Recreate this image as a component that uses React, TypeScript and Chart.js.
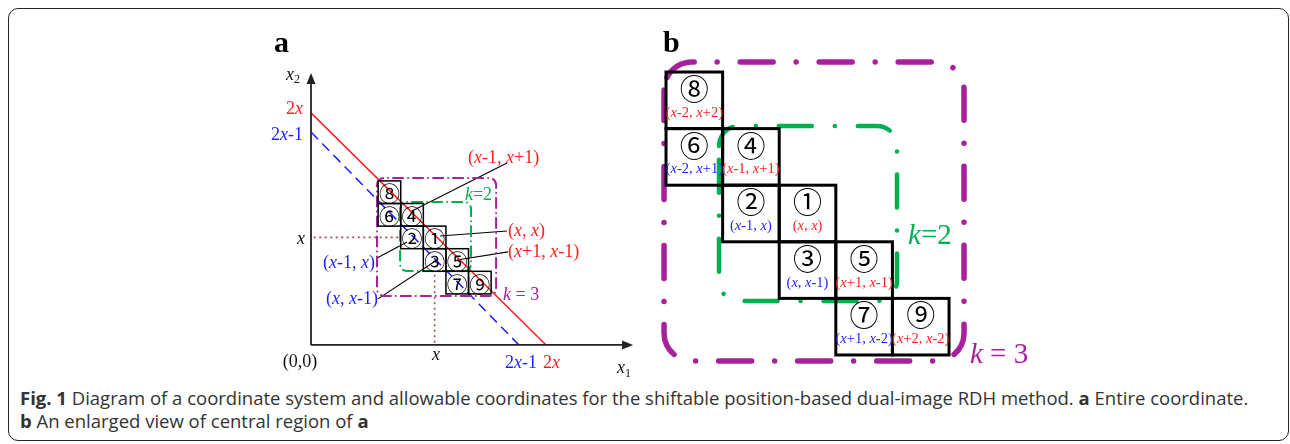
import React, { useEffect, useRef } from "react";
import { Chart, registerables } from "chart.js";
Chart.register(...registerables);

const SERIF = '"Liberation Serif", "Times New Roman", serif';
const CJK = '"Noto Sans CJK JP", "DejaVu Sans", sans-serif';
const RED = "#ff1e1e";
const BLUE = "#1e1eff";
const GREEN = "#00b050";
const PURPLE = "#a8209c";
const DOT_BROWN = "#a0524d";
const INK = "#111111";

// ---------- shared cell data (offsets from the centre cell (x, x)) ----------
const CELL_NUMS = ["①", "②", "③", "④", "⑤", "⑥", "⑦", "⑧", "⑨"];
const CELL_DX = [0, -1, 0, -1, 1, -2, 1, -2, 2];
const CELL_DY = [0, 0, -1, 1, -1, 1, -2, 2, -2];
const CELL_COORDS = ["(x, x)", "(x-1, x)", "(x, x-1)", "(x-1, x+1)", "(x+1, x-1)", "(x-2, x+1)", "(x+1, x-2)", "(x-2, x+2)", "(x+2, x-2)"];
const CELL_TONES = ["red", "blue", "blue", "red", "red", "blue", "blue", "red", "red"];

// ---------- panel a ----------
const A_CENTER_X = 5.47;
const A_CENTER_Y = 4.76;
const A_AXIS_X_END = 14.25;
const A_AXIS_Y_END = 12.04;
const A_RED_LINE = [{ x: 0, y: 10.27 }, { x: 10.4, y: 0 }];
const A_BLUE_LINE = [{ x: 0, y: 9.42 }, { x: 9.2, y: 0 }];
const A_H_DOTTED = [{ x: 0.12, y: 4.76 }, { x: 3.96, y: 4.76 }];
const A_V_DOTTED = [{ x: 5.47, y: 0.1 }, { x: 5.47, y: 3.26 }];
const A_LEADER_FROM = [{ x: 8.67, y: 8.05 }, { x: 8.67, y: 5.04 }, { x: 8.72, y: 4.12 }, { x: 2.92, y: 3.85 }, { x: 2.96, y: 2.04 }];
const A_LEADER_TO = [{ x: 4.38, y: 5.88 }, { x: 5.71, y: 4.82 }, { x: 6.46, y: 3.76 }, { x: 4.25, y: 4.56 }, { x: 5.44, y: 3.67 }];
const A_K3_BOX = { x0: 2.92, x1: 8.19, y0: 2.17, y1: 7.39 };
const A_K2_BOX = { x0: 3.94, x1: 7.08, y0: 3.27, y1: 6.33 };
const A_LABEL_TEXT = ["(x-1, x+1)", "(x, x)", "(x+1, x-1)", "(x-1, x)", "(x, x-1)", "x", "x", "(0,0)", "2x-1", "2x", "x_1", "x_2", "2x", "2x-1", "k=2", "k = 3"];
const A_LABEL_X = [6.95, 8.72, 8.72, 2.83, 2.96, -0.27, 5.53, -0.49, 8.58, 10.27, 13.54, -0.49, -0.35, -0.35, 6.81, 8.5];
const A_LABEL_Y = [8.27, 5.04, 4.12, 3.63, 2.04, 4.69, -0.44, -0.75, -0.8, -0.8, -1.02, 11.95, 10.44, 9.29, 6.64, 2.21];
const A_LABEL_COLOR = [RED, RED, RED, BLUE, BLUE, INK, INK, INK, BLUE, RED, INK, INK, RED, BLUE, GREEN, PURPLE];
const A_LABEL_ALIGN = ["left", "left", "left", "right", "right", "right", "center", "center", "left", "left", "left", "right", "right", "right", "left", "left"];

// ---------- panel b ----------
const B_K3_BOX = { x0: -2.535, x1: 2.765, y0: -2.606, y1: 2.677 };
const B_K2_BOX = { x0: -1.564, x1: 1.581, y0: -1.546, y1: 1.546 };
const B_LABEL_TEXT = ["k=2", "k = 3"];
const B_LABEL_X = [1.776, 2.87];
const B_LABEL_Y = [-0.4, -2.5];
const B_LABEL_COLOR = [GREEN, PURPLE];

function toneColor(t: string) {
  return t === "red" ? RED : BLUE;
}

function drawRich(ctx: CanvasRenderingContext2D, text: string, px: number, py: number, size: number, color: string, align: string) {
  const segs: { t: string; it: boolean; sub: boolean }[] = [];
  for (let i = 0; i < text.length; i++) {
    const ch = text[i];
    if (ch === "_") {
      segs.push({ t: text[i + 1], it: false, sub: true });
      i++;
    } else segs.push({ t: ch, it: ch === "x" || ch === "k", sub: false });
  }
  const fontOf = (s: any) => `${s.it ? "italic " : ""}${s.sub ? Math.round(size * 0.68) : size}px ${SERIF}`;
  let w = 0;
  const ws = segs.map((s) => {
    ctx.font = fontOf(s);
    const m = ctx.measureText(s.t).width;
    w += m;
    return m;
  });
  let x = align === "left" ? px : align === "right" ? px - w : px - w / 2;
  ctx.fillStyle = color;
  ctx.textBaseline = "middle";
  ctx.textAlign = "left";
  segs.forEach((s, i) => {
    ctx.font = fontOf(s);
    ctx.fillText(s.t, x, py + (s.sub ? size * 0.3 : 0));
    x += ws[i];
  });
}

function dashBox(chart: any, box: any, color: string, width: number, dash: number[], offset: number, radius: number) {
  const { ctx, scales } = chart;
  const x0 = scales.x.getPixelForValue(box.x0);
  const x1 = scales.x.getPixelForValue(box.x1);
  const y0 = scales.y.getPixelForValue(box.y1);
  const y1 = scales.y.getPixelForValue(box.y0);
  const r = radius;
  ctx.save();
  ctx.strokeStyle = color;
  ctx.lineWidth = width;
  ctx.lineCap = "round";
  ctx.setLineDash(dash);
  ctx.lineDashOffset = offset;
  // path starts at the top-left corner arc, clockwise
  ctx.beginPath();
  ctx.moveTo(x0, y0 + r);
  ctx.arcTo(x0, y0, x0 + r, y0, r);
  ctx.lineTo(x1 - r, y0);
  ctx.arcTo(x1, y0, x1, y0 + r, r);
  ctx.lineTo(x1, y1 - r);
  ctx.arcTo(x1, y1, x1 - r, y1, r);
  ctx.lineTo(x0 + r, y1);
  ctx.arcTo(x0, y1, x0, y1 - r, r);
  ctx.closePath();
  ctx.stroke();
  ctx.restore();
}

function drawCells(chart: any, cx: number, cy: number, lw: number, numSize: number, numDy: number, labelSize: number, labelDy: number) {
  const { ctx, scales } = chart;
  const xs = scales.x;
  const ys = scales.y;
  ctx.save();
  ctx.strokeStyle = "#000";
  ctx.lineWidth = lw;
  ctx.setLineDash([]);
  for (let i = 0; i < CELL_NUMS.length; i++) {
    const px0 = xs.getPixelForValue(cx + CELL_DX[i] - 0.5);
    const px1 = xs.getPixelForValue(cx + CELL_DX[i] + 0.5);
    const py0 = ys.getPixelForValue(cy + CELL_DY[i] + 0.5);
    const py1 = ys.getPixelForValue(cy + CELL_DY[i] - 0.5);
    ctx.strokeRect(px0, py0, px1 - px0, py1 - py0);
  }
  ctx.fillStyle = "#000";
  ctx.textAlign = "center";
  ctx.textBaseline = "middle";
  ctx.font = `${numSize}px ${CJK}`;
  for (let i = 0; i < CELL_NUMS.length; i++) {
    ctx.fillText(CELL_NUMS[i], xs.getPixelForValue(cx + CELL_DX[i]), ys.getPixelForValue(cy + CELL_DY[i] + numDy) + 1);
  }
  if (labelSize > 0) {
    for (let i = 0; i < CELL_NUMS.length; i++) {
      drawRich(ctx, CELL_COORDS[i], xs.getPixelForValue(cx + CELL_DX[i]), ys.getPixelForValue(cy + CELL_DY[i] + labelDy), labelSize, toneColor(CELL_TONES[i]), "center");
    }
  }
  ctx.restore();
}

const panelAPlugin = {
  id: "panelA",
  afterDatasetsDraw(chart: any) {
    const { ctx, scales } = chart;
    const xs = scales.x;
    const ys = scales.y;
    ctx.save();
    ctx.fillStyle = "#222";
    const tx = xs.getPixelForValue(A_AXIS_X_END);
    const ty = ys.getPixelForValue(0);
    ctx.beginPath();
    ctx.moveTo(tx, ty);
    ctx.lineTo(tx - 11, ty - 4.5);
    ctx.lineTo(tx - 11, ty + 4.5);
    ctx.closePath();
    ctx.fill();
    const ux = xs.getPixelForValue(0);
    const uy = ys.getPixelForValue(A_AXIS_Y_END);
    ctx.beginPath();
    ctx.moveTo(ux, uy);
    ctx.lineTo(ux - 4.5, uy + 11);
    ctx.lineTo(ux + 4.5, uy + 11);
    ctx.closePath();
    ctx.fill();
    ctx.restore();
    dashBox(chart, A_K3_BOX, PURPLE, 2, [10, 5, 0.01, 5], 0, 7);
    dashBox(chart, A_K2_BOX, GREEN, 2, [10, 5, 0.01, 5], 4, 7);
    drawCells(chart, A_CENTER_X, A_CENTER_Y, 1.5, 21, 0, 0, 0);
    for (let i = 0; i < A_LABEL_TEXT.length; i++) {
      drawRich(ctx, A_LABEL_TEXT[i], xs.getPixelForValue(A_LABEL_X[i]), ys.getPixelForValue(A_LABEL_Y[i]), 18, A_LABEL_COLOR[i], A_LABEL_ALIGN[i]);
    }
  },
};

const panelBPlugin = {
  id: "panelB",
  afterDatasetsDraw(chart: any) {
    const { ctx, scales } = chart;
    dashBox(chart, B_K3_BOX, PURPLE, 5.5, [33, 23, 0.01, 23], 66, 28);
    dashBox(chart, B_K2_BOX, GREEN, 4.5, [33, 23, 0.01, 23], 8, 20);
    drawCells(chart, 0, 0, 3, 29, 0.217, 14.5, -0.224);
    for (let i = 0; i < B_LABEL_TEXT.length; i++) {
      drawRich(ctx, B_LABEL_TEXT[i], scales.x.getPixelForValue(B_LABEL_X[i]), scales.y.getPixelForValue(B_LABEL_Y[i]), 29, B_LABEL_COLOR[i], "left");
    }
  },
};

function lineSet(data: any[], color: string, width: number, dash: number[] = []) {
  return { data, showLine: true, borderColor: color, borderWidth: width, borderDash: dash, pointRadius: 0, pointHoverRadius: 0, fill: false, tension: 0 };
}

function baseOptions(xmin: number, xmax: number, ymin: number, ymax: number) {
  return {
    animation: false,
    responsive: false,
    maintainAspectRatio: false,
    devicePixelRatio: 1,
    events: [],
    layout: { padding: 0 },
    plugins: { legend: { display: false }, tooltip: { enabled: false } },
    scales: {
      x: { type: "linear", min: xmin, max: xmax, display: false },
      y: { type: "linear", min: ymin, max: ymax, display: false },
    },
  } as any;
}

function PanelA() {
  const ref = useRef<HTMLCanvasElement>(null);
  useEffect(() => {
    const datasets: any[] = [
      lineSet([{ x: 0, y: 0 }, { x: A_AXIS_X_END - 0.3, y: 0 }], "#222", 1.8),
      lineSet([{ x: 0, y: 0 }, { x: 0, y: A_AXIS_Y_END - 0.3 }], "#222", 1.8),
      lineSet(A_H_DOTTED, DOT_BROWN, 1.6, [2, 3.5]),
      lineSet(A_V_DOTTED, DOT_BROWN, 1.6, [2, 3.5]),
      lineSet(A_BLUE_LINE, BLUE, 1.5, [10, 6]),
      lineSet(A_RED_LINE, RED, 1.5),
    ];
    for (let i = 0; i < A_LEADER_FROM.length; i++) datasets.push(lineSet([A_LEADER_FROM[i], A_LEADER_TO[i]], "#000", 1.1));
    const chart = new Chart(ref.current!, {
      type: "scatter",
      data: { datasets },
      options: baseOptions(-2.257, 14.557, -1.55, 14.38),
      plugins: [panelAPlugin],
    } as any);
    return () => chart.destroy();
  }, []);
  return <canvas ref={ref} width={380} height={360} style={{ position: "absolute", left: 260, top: 20, width: 380, height: 360 }} />;
}

function PanelB() {
  const ref = useRef<HTMLCanvasElement>(null);
  useEffect(() => {
    const centers = CELL_DX.map((dx, i) => ({ x: dx, y: CELL_DY[i] }));
    const chart = new Chart(ref.current!, {
      type: "scatter",
      data: { datasets: [{ data: centers, pointRadius: 0, pointHoverRadius: 0 }] },
      options: baseOptions(-2.783, 4.284, -2.942, 3.419),
      plugins: [panelBPlugin],
    } as any);
    return () => chart.destroy();
  }, []);
  return <canvas ref={ref} width={400} height={360} style={{ position: "absolute", left: 650, top: 20, width: 400, height: 360 }} />;
}

export default function App() {
  const head: React.CSSProperties = { position: "absolute", font: `bold 30px ${SERIF}`, lineHeight: "30px", color: "#000" };
  return (
    <div style={{ position: "absolute", left: 0, top: 0, width: 1290, height: 444, overflow: "hidden", background: "#fff" }}>
      <div style={{ position: "absolute", left: 8, top: 8, width: 1281, height: 433, boxSizing: "border-box", border: "1.5px solid #262626", borderRadius: 10 }} />
      <PanelA />
      <PanelB />
      <div style={{ ...head, left: 274, top: 27 }}>a</div>
      <div style={{ ...head, left: 663, top: 27 }}>b</div>
      <div style={{ position: "absolute", left: 20, top: 386, whiteSpace: "nowrap", font: '18.5px "Open Sans", sans-serif', lineHeight: "23px", color: "#333" }}>
        <b>Fig. 1</b> Diagram of a coordinate system and allowable coordinates for the shiftable position-based dual-image RDH method. <b>a</b> Entire coordinate.
        <br />
        <b>b</b> An enlarged view of central region of <b>a</b>
      </div>
    </div>
  );
}
